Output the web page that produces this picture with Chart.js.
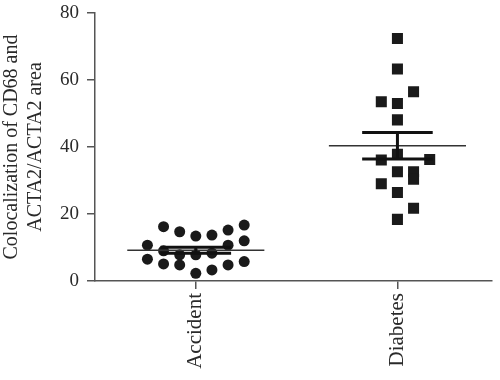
<!DOCTYPE html>
<html>
<head>
<meta charset="utf-8">
<script src="https://cdn.jsdelivr.net/npm/chart.js@4.4.1/dist/chart.umd.min.js"></script>
<style>
html,body{margin:0;padding:0;background:#fff;}
#wrap{width:500px;height:380px;position:relative;}
</style>
</head>
<body>
<div id="wrap"><canvas id="c" width="500" height="380"></canvas></div>
<script>
// ---- data ----
const categories = ["Accident", "Diabetes"];
const yTicks = [0, 20, 40, 60, 80];
// points per jitter column (column index -> values)
const accidentColumns = [-3, -3, -2, -2, -2, -1, -1, -1, 0, 0, 0, 1, 1, 1, 2, 2, 2, 3, 3, 3];
const accidentValues  = [10.7, 6.5, 16.2, 9.0, 5.1, 14.7, 7.8, 4.8, 13.4, 7.8, 2.3, 13.7, 8.3, 3.3, 15.2, 10.7, 4.8, 16.7, 12.0, 5.8];
const diabetesColumns = [0, 0, 0, 0, 0, 0, 0, 0, 1, 1, 1, 1, -1, -1, -1, 2];
const diabetesValues  = [72.4, 63.3, 53.0, 48.1, 37.8, 32.6, 26.4, 18.4, 56.5, 32.6, 30.4, 21.7, 53.5, 36.1, 29.0, 36.3];
const means = [9.2, 40.4];
const sems  = [0.9, 3.95];

// ---- build ----
const JIT = 0.08, MEANW = 0.34, CAPW = 0.175;
const toPts = (g, cols, vals) => vals.map((v, i) => ({x: g + cols[i] * JIT, y: v}));
const meanLine = [], semLines = [];
means.forEach((m, i) => {
  const g = i + 1, s = sems[i];
  meanLine.push({x: g - MEANW, y: m}, {x: g + MEANW, y: m}, {x: g + MEANW, y: null});
  semLines.push({x: g - CAPW, y: m + s}, {x: g + CAPW, y: m + s}, {x: g + CAPW, y: null});
  semLines.push({x: g - CAPW, y: m - s}, {x: g + CAPW, y: m - s}, {x: g + CAPW, y: null});
  semLines.push({x: g, y: m - s}, {x: g, y: m + s}, {x: g, y: null});
});

const serif = "'Liberation Serif', 'DejaVu Serif', serif";
new Chart(document.getElementById('c'), {
  type: 'scatter',
  data: {
    datasets: [
      {type: 'line', data: semLines, borderColor: '#111', borderWidth: 3, pointRadius: 0, spanGaps: false, order: 0, borderCapStyle: 'butt'},
      {type: 'line', data: meanLine, borderColor: '#333', borderWidth: 1.5, pointRadius: 0, spanGaps: false, order: 1},
      {data: toPts(1, accidentColumns, accidentValues), pointStyle: 'circle', pointRadius: 5.5, backgroundColor: '#1a1a1a', borderColor: '#1a1a1a', borderWidth: 0, order: 2},
      {data: toPts(2, diabetesColumns, diabetesValues), pointStyle: 'rect', pointRadius: 7.8, backgroundColor: '#1a1a1a', borderColor: '#1a1a1a', borderWidth: 0, order: 2}
    ]
  },
  options: {
    animation: false,
    responsive: false,
    events: [],
    layout: {padding: 0},
    plugins: {legend: {display: false}, tooltip: {enabled: false}},
    scales: {
      x: {
        type: 'linear', min: 0.5, max: 2.47,
        afterBuildTicks: s => { s.ticks = categories.map((c, i) => ({value: i + 1})); },
        afterFit: s => { s.height = 99; s.paddingRight = 0; },
        ticks: {callback: (v) => categories[v - 1] || '', minRotation: 90, maxRotation: 90, padding: 4, color: '#2a2a2a', font: {family: serif, size: 21}},
        grid: {drawOnChartArea: false, drawTicks: true, tickLength: 8, color: '#555', lineWidth: 1.5},
        border: {color: '#555', width: 1.5}
      },
      y: {
        min: 0, max: 80,
        afterBuildTicks: s => { s.ticks = yTicks.map(v => ({value: v})); },
        afterFit: s => { s.width = 95; s.paddingTop = 13; s.paddingBottom = 0; },
        ticks: {padding: 8, color: '#2a2a2a', font: {family: serif, size: 19}},
        grid: {drawOnChartArea: false, drawTicks: true, tickLength: 8, color: '#555', lineWidth: 1.5},
        border: {color: '#555', width: 1.5},
        title: {display: true, text: ['Colocalization of CD68 and', 'ACTA2/ACTA2 area'], color: '#2a2a2a', font: {family: serif, size: 20, lineHeight: 1.2}, padding: {top: 0, bottom: 0}}
      }
    }
  }
});
</script>
</body>
</html>
